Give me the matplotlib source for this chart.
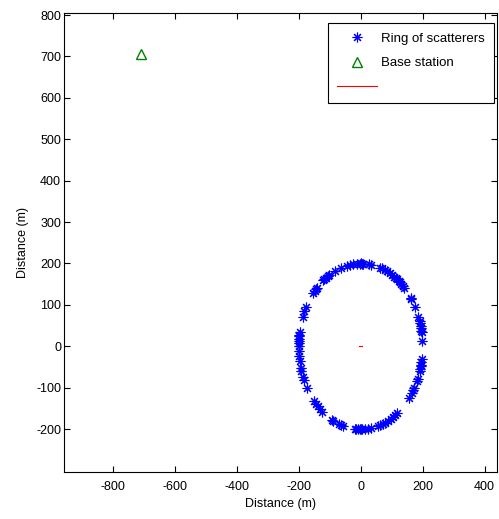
import numpy as np
import matplotlib.pyplot as plt

plt.rc('font', family='Liberation Sans')
plt.rc('axes', unicode_minus=False)

# angulos (grados) de los dispersores sobre el anillo
ang_sup = [88, 89, 90, 91, 93, 97, 100, 103, 108, 114, 121, 122, 124, 126, 127,
           135, 136, 138, 140, 152, 155, 159, 170, 172, 173, 175, 176, 178, 180]
ang_der = [82, 80, 72, 70, 67, 65, 62, 60, 57, 55, 54, 52, 51, 49, 47, 45, 36, 35,
           28, 21, 18, 16, 14, 13, 11, 10, 4]
ang_inf_izq = [183, 187, 190, 195, 197, 202, 204, 210, 221, 224, 226, 229, 232,
               243, 244, 250, 252, 254, 265, 266, 268, 270]
ang_inf_der = [351, 349, 347, 346, 344, 343, 337, 335, 330, 328, 326, 321, 306,
               304, 302, 299, 296, 293, 291, 288, 286, 280, 277, 274, 271, 269]
radio = 200

ang = np.deg2rad(np.array(ang_sup + ang_der + ang_inf_izq + ang_inf_der))
x_disp = radio * np.cos(ang)
y_disp = radio * np.sin(ang)

base_x = [-707]
base_y = [707]

movil_x = [-6, 6]
movil_y = [0, 0]

fig = plt.figure(figsize=(4.99, 5.19), dpi=100)
ax = fig.add_axes([0.128, 0.091, 0.868, 0.884])

asterisco = (8, 2, 0)  # como el '*' de MATLAB
h1, = ax.plot(x_disp, y_disp, marker=asterisco, color='blue', markersize=7,
              markeredgewidth=0.8, linestyle='none')
h2, = ax.plot(base_x, base_y, '^', color='green', markerfacecolor='none',
              markersize=7, linestyle='none')
h3, = ax.plot(movil_x, movil_y, '-', color='red', linewidth=0.8)

ax.set_xlim(-957, 440)
ax.set_ylim(-303, 805)
ax.set_xticks(np.arange(-800, 401, 200))
ax.set_yticks(np.arange(-200, 801, 100))
ax.tick_params(direction='in', top=True, right=True, labelsize=9, length=4)
ax.tick_params(axis='x', pad=7)
ax.tick_params(axis='y', pad=2)
for s in ax.spines.values():
    s.set_linewidth(0.8)

ax.set_xlabel('Distance (m)', fontsize=9, labelpad=3)
ax.set_ylabel('Distance (m)', fontsize=9, labelpad=5)

leg = ax.legend([h1, h2, h3], ['Ring of scatterers', 'Base station', ' '],
                loc='upper right', bbox_to_anchor=(0.993, 0.978), borderaxespad=0,
                fontsize=9.5, fancybox=False, framealpha=1, edgecolor='black',
                handlelength=3, handletextpad=0.3, labelspacing=0.95,
                borderpad=0.7)
leg.get_frame().set_linewidth(0.8)

plt.savefig('out.png')
